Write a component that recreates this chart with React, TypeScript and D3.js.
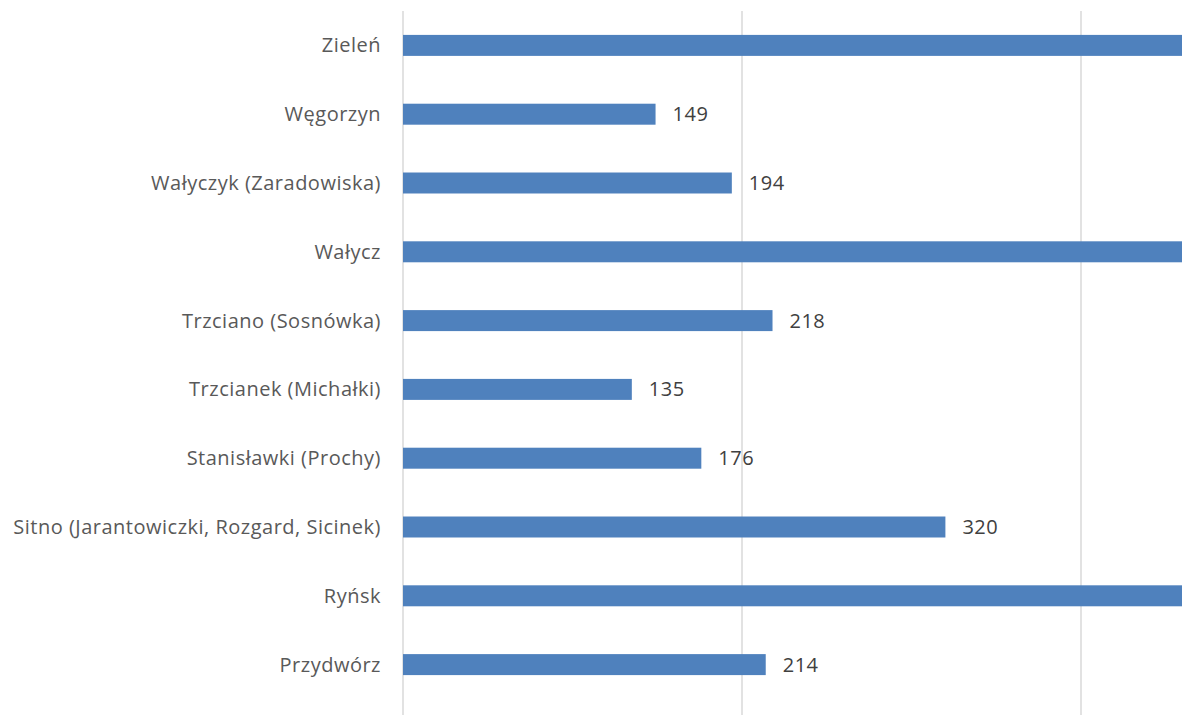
// horizontal bar chart: number of residents per village (clipped on the right like the source)
import React, { useRef, useEffect } from 'react';
import * as d3 from 'd3';

// categories from top to bottom
const categories = [
  'Zieleń',
  'Węgorzyn',
  'Wałyczyk (Zaradowiska)',
  'Wałycz',
  'Trzciano (Sosnówka)',
  'Trzcianek (Michałki)',
  'Stanisławki (Prochy)',
  'Sitno (Jarantowiczki, Rozgard, Sicinek)',
  'Ryńsk',
  'Przydwórz',
];
// the three long bars run off the picture, their values are estimates
const values = [520, 149, 194, 610, 218, 135, 176, 320, 560, 214];
const gridTicks = [0, 200, 400];

const width = 1182;
const height = 715;
const font = '"Open Sans", Lato, sans-serif';

export default function App() {
  const ref = useRef<SVGSVGElement>(null);

  useEffect(() => {
    const svg = d3.select(ref.current);
    svg.selectAll('*').remove();

    const data = categories.map((c, i) => ({ name: c, value: values[i] }));

    const x = d3.scaleLinear().domain([0, 400]).range([403, 1081]);
    const y = d3.scaleBand()
      .domain(categories)
      .range([11, 699])
      .paddingInner(0.695)
      .paddingOuter(0.3475);

    // vertical gridlines
    svg.append('g')
      .selectAll('line')
      .data(gridTicks)
      .enter()
      .append('line')
      .attr('x1', d => x(d))
      .attr('x2', d => x(d))
      .attr('y1', 11)
      .attr('y2', height)
      .style('stroke', '#d9d9d9')
      .style('stroke-width', 1.5);

    svg.append('g')
      .selectAll('rect')
      .data(data)
      .enter()
      .append('rect')
      .attr('x', x(0))
      .attr('y', d => y(d.name)!)
      .attr('width', d => x(d.value) - x(0))
      .attr('height', y.bandwidth())
      .style('fill', '#4f81bd');

    // category labels
    svg.append('g')
      .selectAll('text')
      .data(data)
      .enter()
      .append('text')
      .attr('x', 381)
      .attr('y', d => y(d.name)! + y.bandwidth() / 2)
      .attr('dy', '0.35em')
      .attr('text-anchor', 'end')
      .style('font-family', font)
      .style('font-size', '20px')
      .style('letter-spacing', '0.5px')
      .style('fill', '#595959')
      .text(d => d.name);

    // value labels, only the ones that land inside the picture
    svg.append('g')
      .selectAll('text')
      .data(data.filter(d => x(d.value) + 60 < width))
      .enter()
      .append('text')
      .attr('x', d => x(d.value) + 17)
      .attr('y', d => y(d.name)! + y.bandwidth() / 2)
      .attr('dy', '0.35em')
      .style('font-family', font)
      .style('font-size', '20px')
      .style('letter-spacing', '0.5px')
      .style('fill', '#404040')
      .text(d => d.value);
  }, []);

  return (
    <svg
      ref={ref}
      width={width}
      height={height}
      style={{ position: 'absolute', left: 0, top: 0, background: '#fff', overflow: 'hidden' }}
    />
  );
}
